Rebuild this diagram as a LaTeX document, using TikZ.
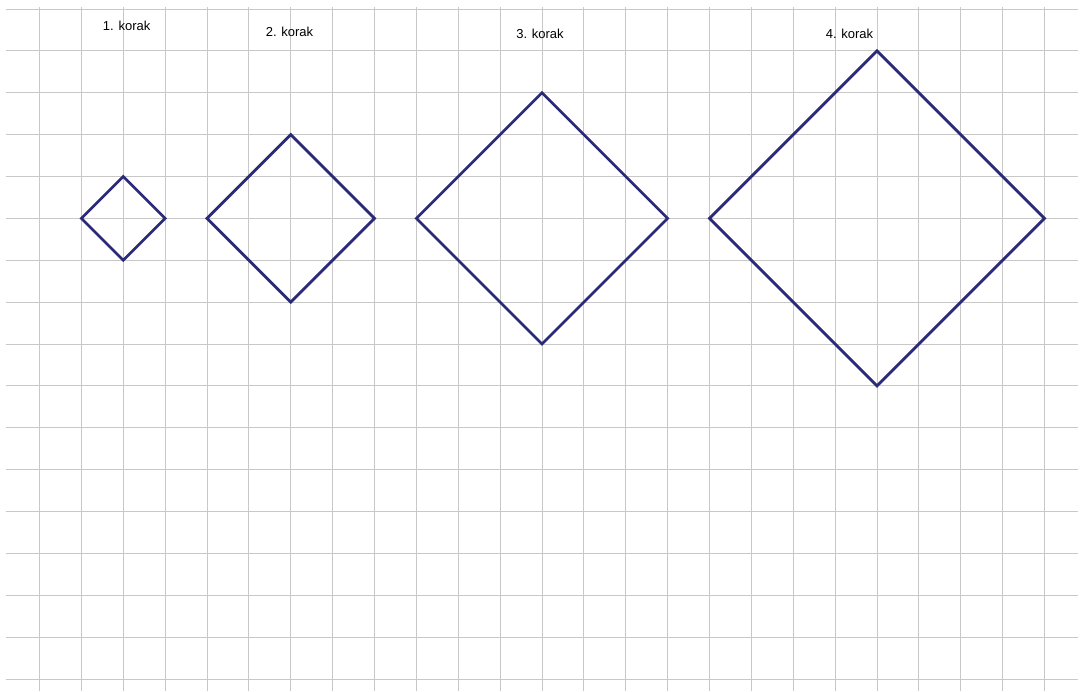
\documentclass[tikz,border=0pt]{standalone}
\usepackage{fontspec}
\setmainfont{Liberation Sans}
\definecolor{gridc}{HTML}{C8C8C8}
\definecolor{sqc}{HTML}{2B2A78}
\tikzset{
  gridline/.style={draw=gridc, line width=1pt},
  sq/.style={draw=sqc, line width=2.8pt, line join=miter},
  lbl/.style={inner sep=0pt, font=\fontsize{13}{15}\selectfont}
}
\begin{document}
\begin{tikzpicture}[x=1pt,y=-1pt]
\useasboundingbox (0,0) rectangle (1083,691);
\fill[white] (0,0) rectangle (1083,691);
% horizontal grid lines
\foreach \j in {0,...,16} {
  \draw[gridline] (6,{9+41.875*\j}) -- (1078,{9+41.875*\j});
}
% vertical grid lines
\foreach \i in {0,...,24} {
  \draw[gridline] ({39.5+41.875*\i},7) -- ({39.5+41.875*\i},691);
}
% squares (diamonds): centre (i,j) grid, half-diagonal r
\foreach \ci/\r in {2/1, 6/2, 12/3, 20/4} {
  \pgfmathsetmacro{\cx}{39.5+41.875*\ci}
  \pgfmathsetmacro{\cy}{9+41.875*5}
  \pgfmathsetmacro{\d}{41.875*\r}
  \draw[sq] (\cx-\d,\cy) -- (\cx,\cy-\d) -- (\cx+\d,\cy) -- (\cx,\cy+\d) -- cycle;
}
\node[lbl] (l1) at (126.7,26) {1. korak};
\node[lbl] (l2) at (289.5,32) {2. korak};
\node[lbl] (l3) at (540,34) {3. korak};
\node[lbl] (l4) at (849.5,33.5) {4. korak};
\end{tikzpicture}
\end{document}
